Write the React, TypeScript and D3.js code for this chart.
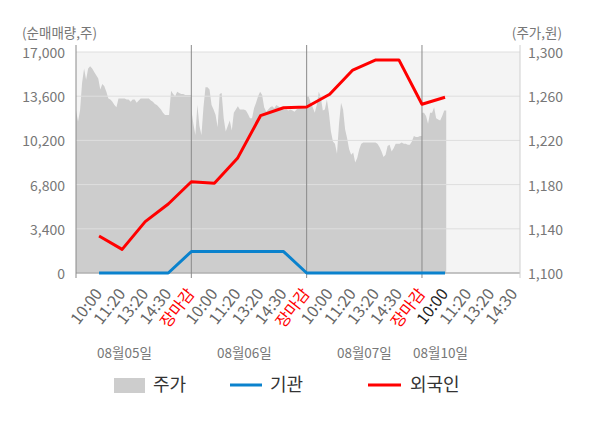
import React from "react";
import * as d3 from "d3";

const xLabels = [
  "10:00", "11:20", "13:20", "14:30", "장마감",
  "10:00", "11:20", "13:20", "14:30", "장마감",
  "10:00", "11:20", "13:20", "14:30", "장마감",
  "10:00", "11:20", "13:20", "14:30",
];
const dayLabels = ["08월05일", "08월06일", "08월07일", "08월10일"];
const dayLabelSlots = [1.1, 6.3, 11.5, 14.8];

const foreignNet = [2850, 1820, 3950, 5310, 7020, 6900, 8820, 12100, 12710, 12770, 13750, 15610, 16390, 16390, 12980, 13520];
const instNet = [0, 0, 0, 0, 1650, 1650, 1650, 1650, 1650, 0, 0, 0, 0, 0, 0, 0];

const day1Prices = [1247, 1237, 1247, 1272, 1285, 1275, 1285, 1287, 1285, 1282, 1279, 1276, 1266, 1271, 1269, 1264, 1258, 1257, 1255, 1252, 1250, 1258, 1258, 1258, 1258, 1257, 1257, 1255, 1257, 1257, 1254, 1256, 1258, 1258, 1258, 1258, 1258, 1256, 1255, 1253, 1252, 1250, 1248, 1245, 1243, 1243, 1243, 1265, 1262, 1260, 1264, 1263, 1262, 1262, 1261, 1261, 1261, 1261];
const day2Prices = [1248, 1235, 1225, 1252, 1233, 1225, 1250, 1268, 1268, 1266, 1252, 1248, 1243, 1232, 1262, 1263, 1240, 1228, 1233, 1238, 1229, 1245, 1248, 1251, 1248, 1248, 1248, 1247, 1244, 1240, 1240, 1249, 1254, 1260, 1264, 1261, 1250, 1246, 1248, 1250, 1251, 1249, 1252, 1251, 1249, 1248, 1248, 1248, 1247, 1248, 1247, 1246, 1248, 1249, 1250, 1250, 1250, 1250];
const day3Prices = [1260, 1260, 1254, 1250, 1245, 1252, 1264, 1259, 1247, 1248, 1257, 1245, 1228, 1219, 1217, 1208, 1235, 1254, 1248, 1230, 1222, 1212, 1207, 1209, 1200, 1204, 1212, 1217, 1218, 1218, 1218, 1218, 1218, 1218, 1218, 1217, 1214, 1210, 1205, 1207, 1215, 1216, 1210, 1213, 1217, 1217, 1217, 1218, 1217, 1217, 1216, 1216, 1219, 1224, 1223, 1223, 1224, 1224];
const day4Prices = [1245, 1245, 1242, 1235, 1245, 1245, 1250, 1240, 1239, 1238, 1242, 1247, 1247];

const leftTicks = [0, 3400, 6800, 10200, 13600, 17000];
const rightTicks = [1100, 1140, 1180, 1220, 1260, 1300];
const separatorSlots = [-1, 4, 9, 14];

const FONT = "'Noto Sans CJK KR', 'Noto Sans', sans-serif";

export default function App() {
  const W = 600, H = 428;
  const L = 76, R = 520, T = 52, B = 273;
  const x = d3.scaleLinear().domain([-1, 18.25]).range([L, R]);
  const yL = d3.scaleLinear().domain([0, 17000]).range([B, T]);
  const yR = d3.scaleLinear().domain([1100, 1300]).range([B, T]);

  const days = [day1Prices, day2Prices, day3Prices, day4Prices];
  const pricePts: [number, number][] = [];
  days.forEach((arr, d) => {
    arr.forEach((p, k) => {
      pricePts.push([5 * d - 1 + (k * 5) / 57, p]);
    });
  });
  const area = d3
    .area<[number, number]>()
    .x((d) => x(d[0]))
    .y0(B)
    .y1((d) => yR(d[1]))(pricePts) as string;

  const line = d3
    .line<number>()
    .x((_, i) => x(i))
    .y((v) => yL(v));

  const fmt = d3.format(",");

  return (
    <svg width={W} height={H} style={{ display: "block", position: "absolute", left: 0, top: 0 }} fontFamily={FONT}>
      <rect x={0} y={0} width={W} height={H} fill="#ffffff" />
      <rect x={L} y={T} width={R - L} height={B - T} fill="#f4f4f4" />
      <path d={area} fill="#cdcdcd" />
      {leftTicks.map((t) => (
        <line key={"g" + t} x1={L} x2={R} y1={yL(t)} y2={yL(t)} stroke="#dedede" strokeWidth={1} />
      ))}
      <line x1={L} x2={R} y1={B} y2={B} stroke="#9a9a9a" strokeWidth={1} />
      {separatorSlots.map((s) => (
        <line key={"s" + s} x1={x(s)} x2={x(s)} y1={45} y2={278} stroke="#8a8a8a" strokeWidth={1} />
      ))}
      <line x1={R} x2={R} y1={45} y2={278} stroke="#d0d0d0" strokeWidth={1} />

      <path d={line(instNet) as string} fill="none" stroke="#0a82cd" strokeWidth={3} strokeLinejoin="round" />
      <path d={line(foreignNet) as string} fill="none" stroke="#ff0000" strokeWidth={3} strokeLinejoin="round" />

      <text x={22} y={38} fontSize={13.5} fill="#777">(순매매량,주)</text>
      <text x={562} y={38} fontSize={13.5} fill="#777" textAnchor="end">(주가,원)</text>
      {leftTicks.map((t) => (
        <text key={"l" + t} x={65} y={yL(t) + 6} fontSize={14} fill="#777" textAnchor="end">
          {fmt(t)}
        </text>
      ))}
      {rightTicks.map((t) => (
        <text key={"r" + t} x={528} y={yR(t) + 6} fontSize={14} fill="#777">
          {fmt(t)}
        </text>
      ))}
      {xLabels.map((lab, i) => {
        const color = lab === "장마감" ? "#ff0000" : i === 15 ? "#222" : "#666";
        const ax = x(i) + 4;
        const ay = 294;
        return (
          <text key={"x" + i} x={ax} y={ay} fontSize={16} fill={color} textAnchor="end" transform={`rotate(-52 ${ax} ${ay})`}>
            {lab}
          </text>
        );
      })}
      {dayLabels.map((lab, i) => (
        <text key={"d" + i} x={x(dayLabelSlots[i])} y={358} fontSize={13.5} fill="#777" textAnchor="middle">
          {lab}
        </text>
      ))}

      <rect x={114} y={378} width={31} height={15} fill="#cdcdcd" />
      <text x={153} y={391} fontSize={18} fill="#333">주가</text>
      <line x1={230} x2={262} y1={385} y2={385} stroke="#0a82cd" strokeWidth={3} />
      <text x={270} y={391} fontSize={18} fill="#333">기관</text>
      <line x1={368} x2={401} y1={385} y2={385} stroke="#ff0000" strokeWidth={3} />
      <text x={410} y={391} fontSize={18} fill="#333">외국인</text>
    </svg>
  );
}
